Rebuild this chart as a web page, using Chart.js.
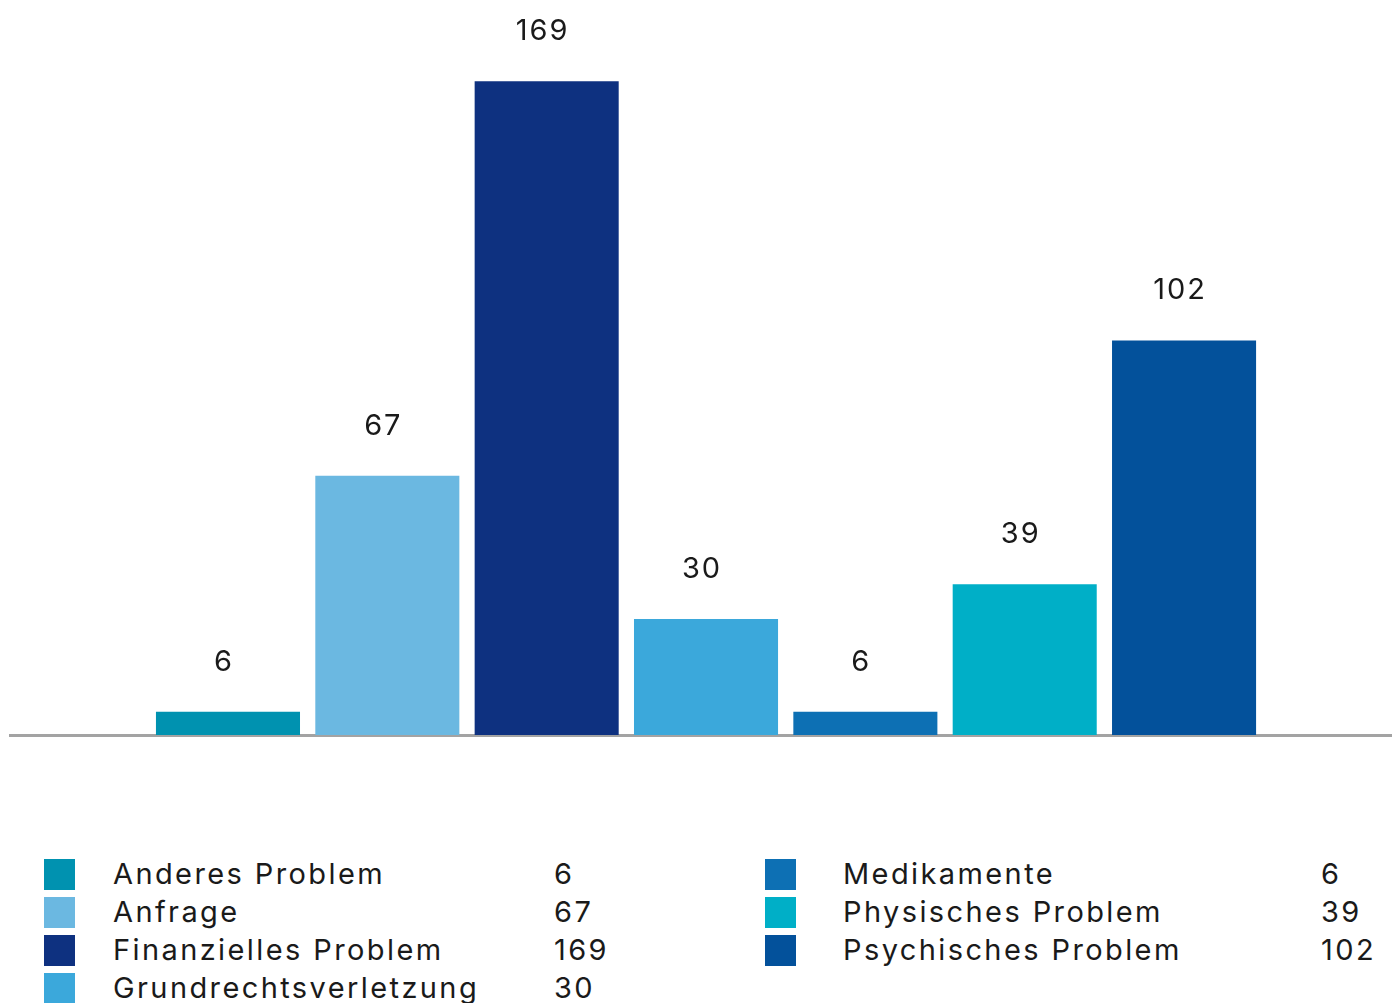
<!DOCTYPE html>
<html>
<head>
<meta charset="utf-8">
<script src="https://cdn.jsdelivr.net/npm/chart.js@4/dist/chart.umd.min.js"></script>
<style>
  body{margin:0;background:#fff;font-family:Inter,"Noto Sans",sans-serif;}
  #wrap{position:absolute;left:0;top:0;width:1392px;height:740px;}
  #legend{position:absolute;left:0;top:855px;width:1392px;font-size:29px;color:#1a1a1a;letter-spacing:2.4px;}
  .row{position:absolute;height:38px;}
  .sw{position:absolute;top:4px;width:31px;height:31px;}
  .lb{position:absolute;top:0;line-height:38px;white-space:nowrap;}
  .vl{position:absolute;top:0;line-height:38px;}
</style>
</head>
<body>
<div id="wrap"><canvas id="barchart"></canvas></div>
<div id="legend"></div>
<script>
// categories, values and colours
var categories=['Anderes Problem','Anfrage','Finanzielles Problem','Grundrechtsverletzung','Medikamente','Physisches Problem','Psychisches Problem'];
var values=[6,67,169,30,6,39,102];
var colors=['#0092B0','#6BB8E1','#0E3180','#3BA8DB','#0D70B4','#00AFC7','#03519B'];

// bars sit on positions 1..7 of a linear x axis
var points=values.map(function(v,i){return {x:i+1,y:v};});

var valueLabels={
  id:'valueLabels',
  afterDatasetsDraw:function(chart){
    var ctx=chart.ctx;
    var meta=chart.getDatasetMeta(0);
    ctx.save();
    ctx.font='29px Inter, "Noto Sans", sans-serif';
    ctx.letterSpacing='2px';
    ctx.fillStyle='#1a1a1a';
    ctx.textAlign='center';
    ctx.textBaseline='middle';
    meta.data.forEach(function(bar,i){
      ctx.fillText(String(values[i]),bar.x-4,bar.y-50);
    });
    ctx.restore();
  }
};

var bch=document.getElementById('barchart').getContext('2d');
var configbchart={
  type:'bar',
  data:{
    datasets:[{
      data:points,
      backgroundColor:colors,
      borderWidth:0,
      categoryPercentage:1,
      barPercentage:0.904
    }]
  },
  options:{
    responsive:true,
    maintainAspectRatio:false,
    animation:false,
    layout:{padding:{left:10,right:0,top:0,bottom:5}},
    plugins:{legend:{display:false},tooltip:{enabled:false}},
    scales:{
      x:{
        type:'linear',
        offset:false,
        min:-0.368,
        max:8.305,
        grid:{display:false,drawTicks:false},
        ticks:{display:false},
        border:{display:true,color:'#A3A3A3',width:3}
      },
      y:{
        min:0,
        max:190,
        display:false
      }
    }
  },
  plugins:[valueLabels]
};
var bchart=new Chart(bch,configbchart);

// legend: two columns, label and value
var legend=document.getElementById('legend');
var cols=[{sw:44,lb:113,vl:554},{sw:765,lb:843,vl:1321}];
categories.forEach(function(name,i){
  var c=i<4?cols[0]:cols[1];
  var r=i<4?i:i-4;
  var row=document.createElement('div');
  row.className='row';
  row.style.top=(r*38)+'px';
  row.style.left='0px';
  row.innerHTML='<div class="sw" style="left:'+c.sw+'px;background:'+colors[i]+'"></div>'+
    '<div class="lb" style="left:'+c.lb+'px">'+name+'</div>'+
    '<div class="vl" style="left:'+c.vl+'px">'+values[i]+'</div>';
  legend.appendChild(row);
});
</script>
</body>
</html>
